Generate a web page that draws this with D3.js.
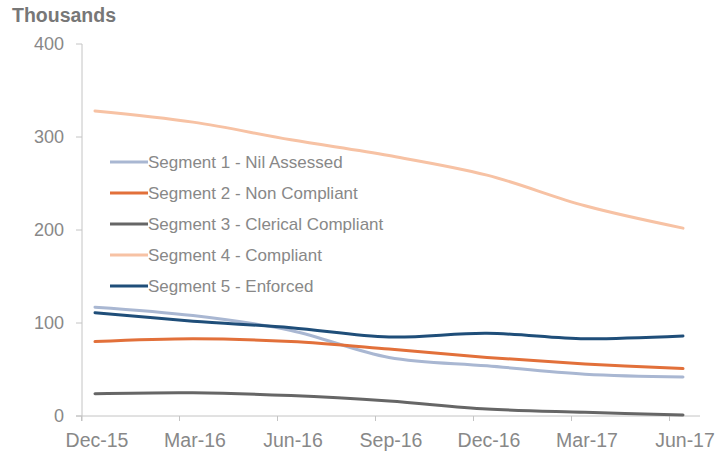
<!DOCTYPE html>
<html><head><meta charset="utf-8">
<script src="https://cdn.jsdelivr.net/npm/d3@7/dist/d3.min.js"></script>
<style>body{margin:0;background:#fff}svg{display:block;font-family:"Liberation Sans",Arial,sans-serif}</style>
</head><body><svg id="c" width="715" height="456"></svg>
<script>
const categories = ["Dec-15","Mar-16","Jun-16","Sep-16","Dec-16","Mar-17","Jun-17"];
const seriesNames = ["Segment 1 - Nil Assessed","Segment 2 - Non Compliant","Segment 3 - Clerical Compliant","Segment 4 - Compliant","Segment 5 - Enforced"];
const seg1 = [117,108,92,63,54,45,42];
const seg2 = [80,83,80,72,63,56,51];
const seg3 = [24,25,22,16,7.5,4,1];
const seg4 = [328,316,297,280,259,226,202];
const seg5 = [111,102,95,85,89,83,86];
const yTicks = [0,100,200,300,400];
const colors = ["#a9b7d2","#e2703a","#666666","#f7c2a4","#1f4e79"];

const series = [seg1,seg2,seg3,seg4,seg5];
const svg = d3.select("#c");
const x = d3.scalePoint().domain(categories).range([95,683]);
const y = d3.scaleLinear().domain([0,400]).range([416,44]);
const grey = "#c4c4c4", txt = "#888888";

svg.append("text").attr("x",12).attr("y",22).attr("font-size",19.5).attr("font-weight","bold").attr("fill","#777777").text("Thousands");

// y axis
svg.append("line").attr("x1",82).attr("x2",82).attr("y1",y(400)).attr("y2",y(0)+5).attr("stroke",grey);
svg.selectAll(".yt").data(yTicks).join("line").attr("x1",76).attr("x2",82).attr("y1",d=>y(d)).attr("y2",d=>y(d)).attr("stroke",grey);
svg.selectAll(".yl").data(yTicks).join("text").attr("x",64).attr("y",d=>y(d)).attr("dy","0.36em").attr("text-anchor","end").attr("font-size",18).attr("fill",txt).text(d=>d);

// x axis
svg.append("line").attr("x1",76).attr("x2",700).attr("y1",y(0)).attr("y2",y(0)).attr("stroke",grey);
svg.selectAll(".xt").data(categories).join("line").attr("x1",d=>x(d)-13.5).attr("x2",d=>x(d)-13.5).attr("y1",y(0)).attr("y2",y(0)+5).attr("stroke",grey);
svg.selectAll(".xl").data(categories).join("text").attr("x",d=>x(d)+2).attr("y",447).attr("text-anchor","middle").attr("font-size",19.5).attr("fill",txt).text(d=>d);

// lines
const line = d3.line().x((d,i)=>x(categories[i])).y(d=>y(d)).curve(d3.curveCatmullRom.alpha(0.5));
svg.selectAll(".ln").data(series).join("path").attr("d",d=>line(d)).attr("fill","none")
  .attr("stroke",(d,i)=>colors[i]).attr("stroke-width",3).attr("stroke-linecap","round");

// legend
const lg = svg.selectAll(".lg").data(seriesNames).join("g").attr("transform",(d,i)=>`translate(110,${162+i*31})`);
lg.append("line").attr("x1",0).attr("x2",38).attr("y1",0).attr("y2",0).attr("stroke",(d,i)=>colors[i]).attr("stroke-width",3);
lg.append("text").attr("x",38).attr("y",0).attr("dy","0.36em").attr("font-size",17).attr("fill",txt).text(d=>d);
</script></body></html>
